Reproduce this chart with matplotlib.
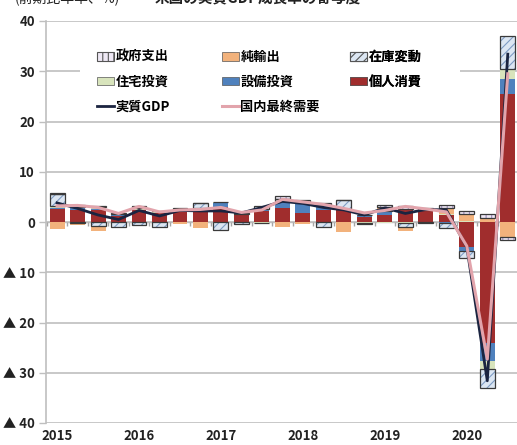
import numpy as np
import matplotlib.pyplot as plt
from matplotlib.patches import Patch, Rectangle
from matplotlib.lines import Line2D

plt.rcParams['font.family'] = ['Noto Sans CJK JP', 'DejaVu Sans']
plt.rcParams['hatch.linewidth'] = 0.8

# 2015Q1 - 2020Q3, contributions to real GDP growth (annualized, %)
years = ['2015', '2016', '2017', '2018', '2019', '2020']
year_pos = [0, 4, 8, 12, 16, 20]

pce = [2.6, 2.4, 2.3, 1.2, 2.3, 1.7, 2.1, 2.4, 2.9, 1.4, 2.1, 2.7, 1.7, 2.4, 2.4, 1.0,
       1.3, 2.5, 2.2, 1.3, -4.9, -24.0, 25.4]
fixed_inv = [0.2, 0.3, 0.3, 0.1, 0.1, 0.1, 0.2, 0.2, 0.8, 0.1, 0.5, 1.3, 2.0, 0.8, 0.1, 0.3,
             0.8, 0.1, 0.0, -0.2, -0.8, -3.7, 3.0]
housing = [0.3, 0.3, 0.3, 0.2, 0.3, 0.1, 0.0, 0.1, 0.2, 0.1, -0.1, 0.2, 0.1, 0.0, 0.1, -0.2,
           -0.1, -0.1, 0.2, 0.2, 0.2, -1.6, 2.0]
inventory = [2.5, -0.2, -0.8, -0.9, -0.6, -0.9, 0.3, 1.0, -1.6, -0.3, 0.5, 0.4, 0.2, -0.9, 1.7, -0.2,
             0.4, -0.9, -0.1, -0.9, -1.4, -3.7, 6.7]
net_exports = [-1.4, -0.4, -1.0, -0.3, -0.1, 0.2, -0.4, -1.1, -0.2, -0.1, 0.1, -0.9, -0.3, 0.2, -1.9, -0.1,
               0.5, -0.8, -0.1, 1.3, 1.4, 0.7, -2.9]
government = [0.1, 0.4, 0.3, 0.2, 0.5, 0.1, 0.1, 0.0, 0.0, 0.1, -0.1, 0.5, 0.4, 0.4, 0.1, 0.1,
              0.4, 0.6, 0.3, 0.6, 0.5, 0.8, -0.7]
gdp = [3.8, 2.7, 1.4, 0.5, 2.3, 1.2, 2.3, 2.2, 2.2, 1.8, 2.9, 4.1, 3.7, 2.9, 2.4, 1.4,
       2.8, 1.7, 2.5, 2.4, -5.0, -31.6, 33.4]
final_demand = [3.2, 3.3, 2.9, 1.7, 3.1, 2.0, 2.4, 2.5, 2.9, 1.9, 2.4, 4.5, 4.0, 3.5, 2.7, 1.8,
                2.3, 3.1, 2.6, 2.0, -4.8, -27.3, 29.5]

x = np.arange(len(gdp))
width = 0.73

# stacking order, bottom to top
series = [
    ('個人消費', pce, dict(color='#A02D2D')),
    ('設備投資', fixed_inv, dict(color='#4F81BD')),
    ('住宅投資', housing, dict(color='#D8E4BC')),
    ('在庫変動', inventory, dict(color='#DCE6F2', hatch='////', hatchc='#7F9CC4')),
    ('純輸出', net_exports, dict(color='#F2B27C')),
    ('政府支出', government, dict(color='#EEE8F4', hatch='|||', hatchc='#9C8CBA')),
]

fig = plt.figure(figsize=(5.17, 4.45), dpi=100)
ax = fig.add_axes([46 / 517, 22 / 445, 1 - 46 / 517, 402 / 445])

pos_base = np.zeros(len(x))
neg_base = np.zeros(len(x))
handles = {}
for name, vals, st in series:
    v = np.array(vals)
    bottom = np.where(v >= 0, pos_base, neg_base)
    if 'hatch' in st:
        ax.bar(x, v, width, bottom=bottom, facecolor=st['color'], edgecolor=st['hatchc'],
               hatch=st['hatch'], linewidth=0, zorder=2)
        ax.bar(x, v, width, bottom=bottom, fill=False, edgecolor='#3A3A3A', linewidth=0.9, zorder=2.1)
        handles[name] = Patch(facecolor=st['color'], edgecolor='#555555', hatch=st['hatch'], linewidth=0.8)
    else:
        ax.bar(x, v, width, bottom=bottom, color=st['color'], linewidth=0, zorder=2)
        handles[name] = Patch(facecolor=st['color'], edgecolor='#555555', linewidth=0.5)
    pos_base = pos_base + np.where(v > 0, v, 0)
    neg_base = neg_base + np.where(v < 0, v, 0)

ax.plot(x, gdp, color='#1B2440', lw=2.0, zorder=3, solid_joinstyle='round')
ax.plot(x, final_demand, color='#E2A4AC', lw=2.2, zorder=3.1, solid_joinstyle='round')
handles['実質GDP'] = Line2D([], [], color='#1B2440', lw=2.0)
handles['国内最終需要'] = Line2D([], [], color='#E2A4AC', lw=2.2)

# zero line with category tick marks
ax.axhline(0, color='#BFBFBF', lw=1.0, zorder=1.5)
ax.vlines(np.arange(len(x) + 1) - 0.5, -0.8, 0, color='#A6A6A6', lw=1.0, zorder=1.5)

ax.set_xlim(-0.54, 22.45)
ax.set_ylim(-40, 40)
yt = np.arange(-40, 41, 10)
ax.set_yticks(yt)
ax.set_yticklabels([f'▲ {-t}' if t < 0 else str(t) for t in yt],
                   fontsize=9.5, fontweight='bold', color='#222222')
ax.set_xticks(year_pos)
ax.set_xticklabels(years, fontsize=9.5, fontweight='bold', color='#222222')
ax.tick_params(axis='x', length=0, pad=4)
ax.tick_params(axis='y', length=5, color='#BFBFBF', width=1.0, pad=3)

ax.yaxis.grid(True, color='#C4C4C4', lw=1.3)
ax.set_axisbelow(True)
for s in ['top', 'right', 'bottom']:
    ax.spines[s].set_visible(False)
ax.spines['left'].set_color('#BFBFBF')
ax.spines['left'].set_linewidth(1.2)

# legend area: white block over the grid, three columns placed separately
ax.add_patch(Rectangle((80 / 517, 1 - 118 / 445), 380 / 517, 83 / 445, transform=fig.transFigure,
                       facecolor='white', edgecolor='none', zorder=1))
columns = [(97, ['政府支出', '住宅投資', '実質GDP']),
           (222, ['純輸出', '設備投資', '国内最終需要']),
           (350, ['在庫変動', '個人消費'])]
for px, names in columns:
    leg = ax.legend([handles[k] for k in names], names, loc='upper left',
                    bbox_to_anchor=(px / 517, 1 - 50 / 445), bbox_transform=fig.transFigure,
                    frameon=False, prop=dict(size=9.5, weight='bold'),
                    handlelength=1.3, handleheight=0.6, handletextpad=0.1,
                    labelspacing=0.82, borderpad=0, borderaxespad=0)
    leg.set_zorder(5)
    ax.add_artist(leg)

# heading sits above the top edge, only its lower part shows
fig.text(15 / 517, 1.0 + 2 / 445, '(前期比年率、%)', ha='left', va='center', fontsize=10, color='#222222')
fig.text(155 / 517, 1.0 + 2 / 445, '米国の実質GDP成長率の寄与度', ha='left', va='center', fontsize=10.5,
         fontweight='bold', color='#222222')

fig.savefig('out.png', dpi=100)
